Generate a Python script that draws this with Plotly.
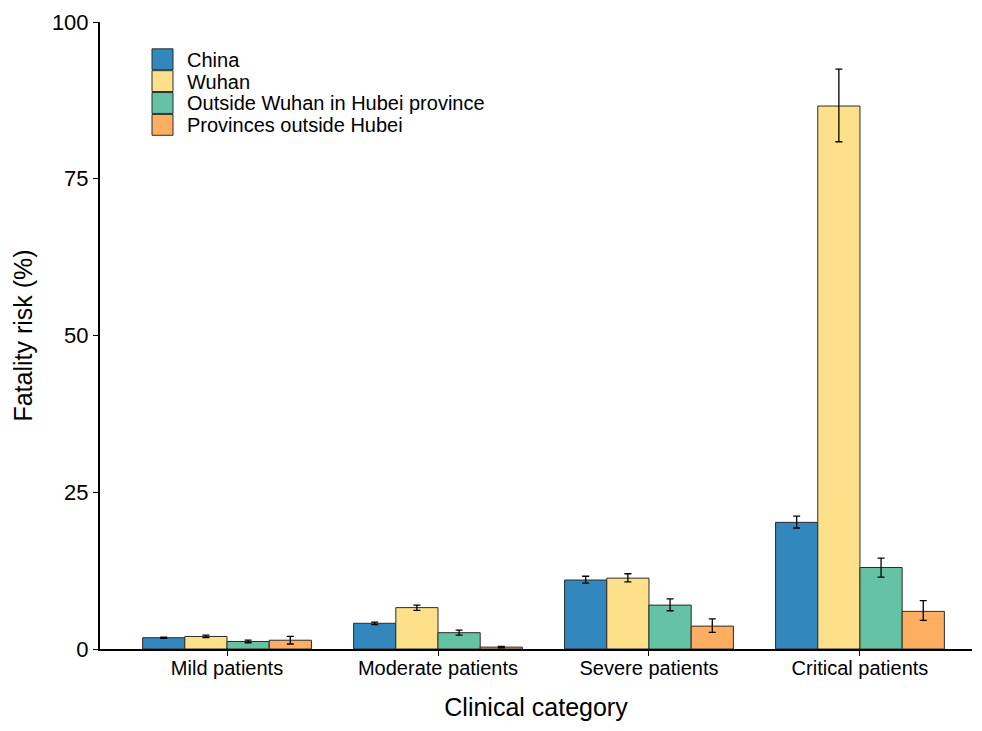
import plotly.graph_objects as go

categories = ["Mild patients", "Moderate patients", "Severe patients", "Critical patients"]
series_names = ["China", "Wuhan", "Outside Wuhan in Hubei province", "Provinces outside Hubei"]

china = [1.8, 4.1, 11.0, 20.2]
china_hi = [1.9, 4.3, 11.6, 21.2]
china_lo = [1.7, 3.9, 10.5, 19.3]

wuhan = [2.0, 6.6, 11.3, 86.6]
wuhan_hi = [2.2, 7.0, 12.0, 92.5]
wuhan_lo = [1.8, 6.15, 10.7, 80.9]

outside = [1.2, 2.6, 7.0, 13.0]
outside_hi = [1.4, 3.0, 8.0, 14.5]
outside_lo = [1.0, 2.2, 6.1, 11.45]

provinces = [1.4, 0.3, 3.65, 6.0]
provinces_hi = [2.0, 0.4, 4.8, 7.7]
provinces_lo = [0.8, 0.2, 2.65, 4.55]

colors = ["#3288BD", "#FEE08B", "#66C2A5", "#FDAE61"]

values = [china, wuhan, outside, provinces]
highs = [china_hi, wuhan_hi, outside_hi, provinces_hi]
lows = [china_lo, wuhan_lo, outside_lo, provinces_lo]

FONT = "Liberation Sans, Arial, sans-serif"

fig = go.Figure()
for name, v, hi, lo, c in zip(series_names, values, highs, lows, colors):
    fig.add_trace(go.Bar(
        name=name, x=categories, y=v,
        marker=dict(color=c, line=dict(color="#2b2b2b", width=1)),
        error_y=dict(type="data", symmetric=False,
                     array=[h - m for h, m in zip(hi, v)],
                     arrayminus=[m - l for m, l in zip(v, lo)],
                     color="black", thickness=1.3, width=3.5),
        showlegend=False,
    ))

# page body has an 8px default margin; compensate so the plot area lands
# at x 100.., y 20..649 in the 982x731 window
OFF = 8
W, H = 982 - 2 * OFF, 731 - 2 * OFF
L, R, T, B = 100 - OFF, 2, 18 - OFF, 731 - 649 - OFF
pw, ph = W - L - R, H - T - B
def px2x(px): return (px - OFF - L) / pw
def py2y(py): return (H - B - (py - OFF)) / ph

row_tops = [45, 67, 89, 111]
for name, c, top in zip(series_names, colors, row_tops):
    fig.add_shape(type="rect", xref="paper", yref="paper",
                  x0=px2x(152), x1=px2x(173), y0=py2y(top + 21), y1=py2y(top),
                  fillcolor=c, line=dict(color="#2b2b2b", width=1))
    fig.add_annotation(xref="paper", yref="paper", x=px2x(185), y=py2y(top + 11),
                       text=name, showarrow=False, xanchor="left", yanchor="middle",
                       font=dict(family=FONT, size=20, color="black"))

fig.update_layout(
    width=W, height=H,
    margin=dict(l=L, r=R, t=T, b=B),
    barmode="group", bargap=0.2, bargroupgap=0,
    plot_bgcolor="white", paper_bgcolor="white",
    font=dict(family=FONT, color="black"),
    xaxis=dict(
        range=[-0.602, 3.531], showline=True, linecolor="black", linewidth=2,
        ticks="outside", ticklen=5, tickcolor="black", tickwidth=1,
        tickfont=dict(size=20, color="black"), ticklabelstandoff=-5,
        title=dict(text="Clinical category", font=dict(size=25), standoff=20),
        showgrid=False, zeroline=False,
    ),
    yaxis=dict(
        range=[0, 100], tickvals=[0, 25, 50, 75, 100],
        showline=True, linecolor="black", linewidth=2,
        ticks="outside", ticklen=5, tickcolor="black", tickwidth=1,
        tickfont=dict(size=22, color="black"), ticklabeloverflow="allow",
        title=dict(text="Fatality risk (%)", font=dict(size=25), standoff=12),
        showgrid=False, zeroline=False,
    ),
)

fig.write_html("out.html")
